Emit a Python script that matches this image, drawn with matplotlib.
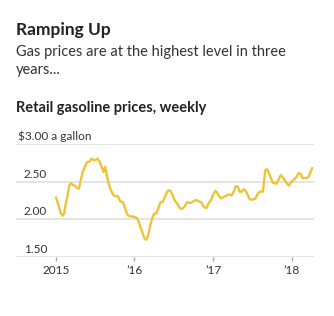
import matplotlib
matplotlib.use('Agg')
import matplotlib.pyplot as plt
import matplotlib.transforms as mtransforms

plt.rcParams['font.family'] = ['Lato', 'DejaVu Sans']

LINE_COLOR = '#EEC437'
GRID_COLOR = '#e4e4e4'
TEXT_COLOR = '#333333'

# weekly readings, as fractional years
dates_2015 = [2015.004, 2015.034, 2015.063, 2015.089, 2015.106, 2015.123, 2015.148, 2015.174,
              2015.191, 2015.216, 2015.242, 2015.267, 2015.293, 2015.318, 2015.344, 2015.369,
              2015.395, 2015.429, 2015.454, 2015.479, 2015.505, 2015.530, 2015.556, 2015.581,
              2015.607, 2015.628, 2015.649, 2015.670, 2015.700, 2015.726, 2015.755, 2015.789,
              2015.819, 2015.853, 2015.883, 2015.912, 2015.946, 2015.980]
prices_2015 = [2.29, 2.19, 2.08, 2.05, 2.08, 2.19, 2.31, 2.46,
               2.48, 2.46, 2.45, 2.42, 2.41, 2.53, 2.64, 2.70,
               2.76, 2.77, 2.81, 2.79, 2.79, 2.81, 2.77, 2.70,
               2.63, 2.70, 2.59, 2.48, 2.39, 2.33, 2.31, 2.31,
               2.24, 2.23, 2.14, 2.06, 2.04, 2.04]

dates_2016 = [2016.002, 2016.032, 2016.053, 2016.074, 2016.100, 2016.125, 2016.151, 2016.176,
              2016.202, 2016.227, 2016.253, 2016.278, 2016.304, 2016.329, 2016.355, 2016.380,
              2016.406, 2016.431, 2016.457, 2016.482, 2016.508, 2016.542, 2016.576, 2016.605,
              2016.635, 2016.669, 2016.695, 2016.720, 2016.746, 2016.780, 2016.814, 2016.848,
              2016.880, 2016.915, 2016.944, 2016.974]
prices_2016 = [2.03, 2.02, 1.97, 1.90, 1.83, 1.75, 1.73, 1.80,
               1.93, 2.02, 2.08, 2.08, 2.15, 2.23, 2.23, 2.28,
               2.35, 2.39, 2.38, 2.33, 2.26, 2.21, 2.15, 2.14,
               2.17, 2.23, 2.22, 2.22, 2.24, 2.26, 2.24, 2.23,
               2.17, 2.15, 2.22, 2.26]

dates_2017 = [2017.000, 2017.025, 2017.050, 2017.076, 2017.101, 2017.135, 2017.160, 2017.185,
              2017.211, 2017.236, 2017.261, 2017.287, 2017.312, 2017.337, 2017.363, 2017.388,
              2017.413, 2017.438, 2017.464, 2017.489, 2017.514, 2017.540, 2017.565, 2017.590,
              2017.616, 2017.633, 2017.649, 2017.662, 2017.683, 2017.708, 2017.734, 2017.759,
              2017.784, 2017.810, 2017.835, 2017.860, 2017.886, 2017.911, 2017.937, 2017.962,
              2017.987]
prices_2017 = [2.33, 2.38, 2.36, 2.31, 2.28, 2.30, 2.31, 2.33,
               2.33, 2.32, 2.37, 2.44, 2.44, 2.37, 2.37, 2.40,
               2.38, 2.33, 2.27, 2.26, 2.27, 2.28, 2.34, 2.37,
               2.37, 2.37, 2.53, 2.65, 2.67, 2.62, 2.55, 2.49,
               2.48, 2.48, 2.54, 2.59, 2.56, 2.52, 2.48, 2.45,
               2.49]

dates_2018 = [2018.013, 2018.038, 2018.063, 2018.089, 2018.114, 2018.139, 2018.165, 2018.190,
              2018.215, 2018.241, 2018.258]
prices_2018 = [2.52, 2.54, 2.57, 2.62, 2.60, 2.55, 2.55, 2.55,
               2.57, 2.64, 2.68]

dates = dates_2015 + dates_2016 + dates_2017 + dates_2018
prices = prices_2015 + prices_2016 + prices_2017 + prices_2018

y_ticks = [1.5, 2.0, 2.5, 3.0]
y_labels = ['1.50', '2.00', '2.50', '$3.00 a gallon']
x_ticks = [2015, 2016, 2017, 2018]
x_labels = ['2015', '\u201916', '\u201917', '\u201918']

fig = plt.figure(figsize=(3.34, 3.16), dpi=100)
ax = fig.add_axes([16 / 334, 1 - 257 / 316, 298 / 334, 112.7 / 316])

for y in y_ticks:
    ax.axhline(y, color=GRID_COLOR, lw=1.4, zorder=1)
ax.plot(dates, prices, color=LINE_COLOR, lw=1.7, zorder=3, solid_joinstyle='round')

ax.set_xlim(2014.494, 2018.282)
ax.set_ylim(1.5, 3.0)
for s in ax.spines.values():
    s.set_visible(False)
ax.set_yticks([])
ax.set_xticks(x_ticks)
ax.set_xticklabels(x_labels, fontsize=8.5, color=TEXT_COLOR)
ax.tick_params(axis='x', length=3, width=1, color='#aaaaaa', pad=3)

# y labels sit above their gridlines, x in figure coords
label_tf = mtransforms.blended_transform_factory(fig.transFigure, ax.transData)
for y, lab in zip(y_ticks, y_labels):
    xpos = 18 / 334 if y == 3.0 else 24 / 334
    ax.text(xpos, y + 0.03, lab, transform=label_tf, fontsize=8.5,
            color=TEXT_COLOR, ha='left', va='bottom')

fig.text(16 / 334, 1 - 30 / 316, 'Ramping Up', fontsize=12.5, fontweight='bold',
         color='#222222', ha='left', va='center')
fig.text(16 / 334, 1 - 52 / 316, 'Gas prices are at the highest level in three',
         fontsize=10.5, color=TEXT_COLOR, ha='left', va='center')
fig.text(16 / 334, 1 - 70 / 316, 'years...', fontsize=10.5, color=TEXT_COLOR,
         ha='left', va='center')
fig.text(16 / 334, 1 - 108 / 316, 'Retail gasoline prices, weekly', fontsize=10.5,
         fontweight='bold', color='#222222', ha='left', va='center')

fig.savefig('out.png', dpi=100)
